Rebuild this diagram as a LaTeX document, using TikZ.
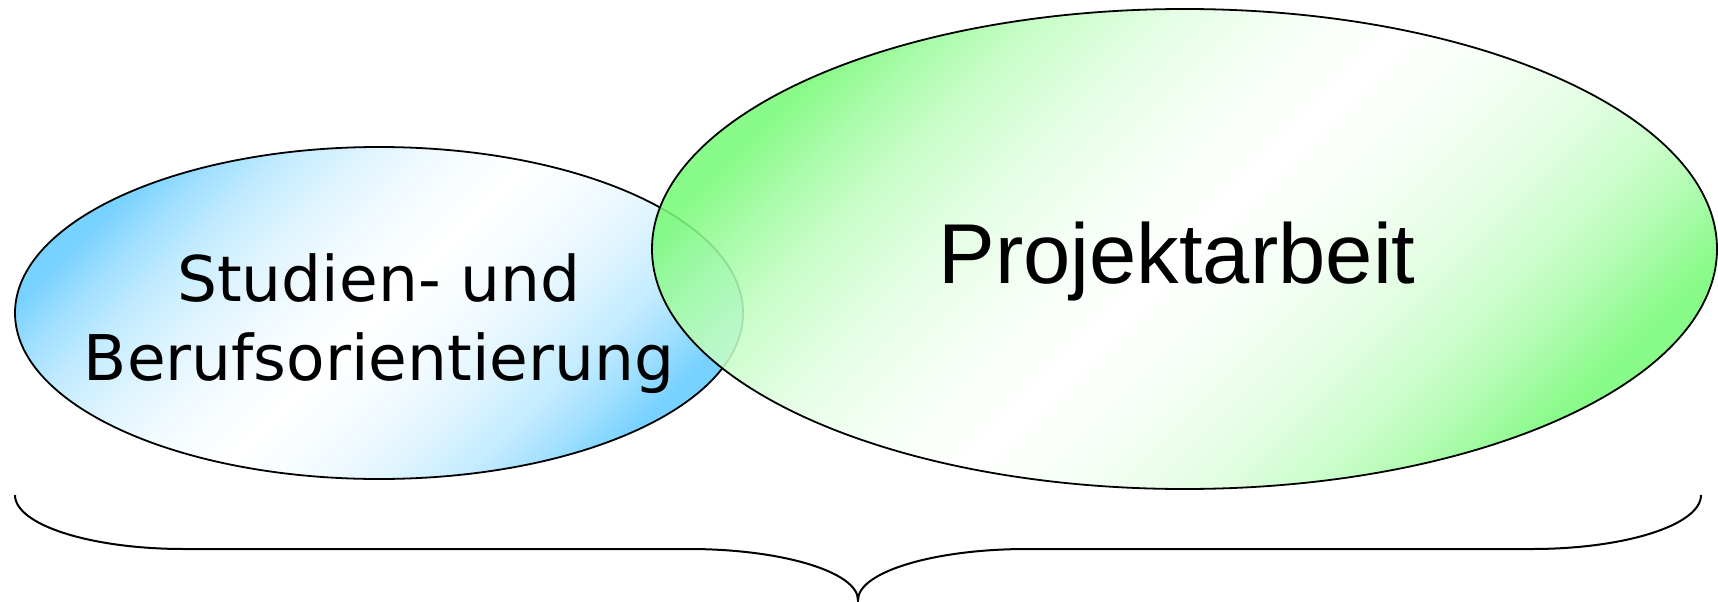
\documentclass[tikz,border=0pt]{standalone}
\usepackage{fontspec}
\usetikzlibrary{shapes.geometric}
\newfontfamily\sbfont{DejaVu Sans}
\newfontfamily\pafont{Liberation Sans}
\definecolor{sbblue}{RGB}{120,210,255}
\definecolor{pagreen}{RGB}{120,250,120}
\pgfdeclareverticalshading{sbshade}{100bp}{color(0bp)=(sbblue); color(25bp)=(sbblue); color(29bp)=(sbblue!70!white); color(33bp)=(sbblue!45!white); color(38bp)=(sbblue!25!white); color(44bp)=(sbblue!8!white); color(50bp)=(white); color(56bp)=(sbblue!8!white); color(62bp)=(sbblue!25!white); color(67bp)=(sbblue!45!white); color(71bp)=(sbblue!70!white); color(75bp)=(sbblue); color(100bp)=(sbblue)}
\pgfdeclareverticalshading{pashade}{100bp}{color(0bp)=(pagreen); color(25bp)=(pagreen); color(29bp)=(pagreen!70!white); color(33bp)=(pagreen!45!white); color(38bp)=(pagreen!25!white); color(44bp)=(pagreen!8!white); color(50bp)=(white); color(56bp)=(pagreen!8!white); color(62bp)=(pagreen!25!white); color(67bp)=(pagreen!45!white); color(71bp)=(pagreen!70!white); color(75bp)=(pagreen); color(100bp)=(pagreen)}
\begin{document}
\begin{tikzpicture}[x=1pt,y=-1pt,
  venn/.style={ellipse, draw=black, line width=1.8pt, inner sep=0pt, outer sep=0pt},
  bracepath/.style={draw=black, line width=2pt},
  sbtext/.style={font=\sbfont\fontsize{63}{79}\selectfont, anchor=base, inner sep=0pt},
  patext/.style={font=\pafont\fontsize{85}{100}\selectfont, anchor=base, inner sep=0pt}]
\useasboundingbox (0,0) rectangle (1718,602);
\node[venn, minimum width=728pt, minimum height=332pt,
  shading=sbshade, shading angle=45] (sb) at (379,313) {};
\node[venn, minimum width=1065pt, minimum height=480pt,
  shading=pashade, shading angle=45, fill opacity=0.88] (pa) at (1184.5,249) {};
\node[sbtext] (sb1) at (379,301) {Studien- und};
\node[sbtext] (sb2) at (379,380) {Berufsorientierung};
\node[patext] (pa1) at (1177,283) {Projektarbeit};
\coordinate (bl) at (15,495);
\coordinate (br) at (1701,495);
\coordinate (tip) at (858,600);
\draw[bracepath] (bl) .. controls (15,525) and (91,549) .. (184,549) -- (689,549)
  .. controls (782,549) and (858,572) .. (tip)
  .. controls (858,572) and (934,549) .. (1027,549) -- (1532,549)
  .. controls (1625,549) and (1701,525) .. (br);
\end{tikzpicture}
\end{document}
